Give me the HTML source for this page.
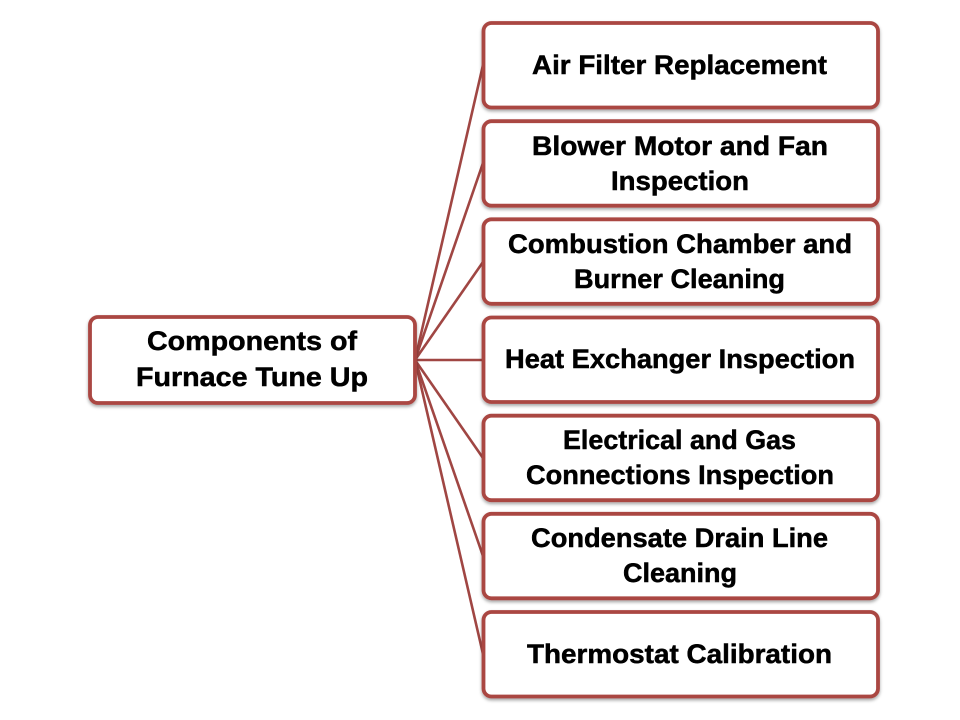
<!DOCTYPE html>
<html>
<head>
<meta charset="utf-8">
<style>
html,body{margin:0;padding:0;background:#fff;width:960px;height:720px;overflow:hidden}
svg{display:block}
text{font-family:"Liberation Sans",sans-serif;font-weight:bold;font-size:27px;fill:#000;stroke:#000;stroke-width:.5px}
.b{fill:#fff;stroke:#aa4643;stroke-width:3.8px}
.l{stroke:#a04643;stroke-width:2.6px;fill:none}
</style>
</head>
<body>
<svg width="960" height="720" viewBox="0 0 960 720" xmlns="http://www.w3.org/2000/svg">
<defs>
<filter id="s" x="-5%" y="-10%" width="110%" height="125%">
<feDropShadow dx="0" dy="2" stdDeviation="1.5" flood-color="#000" flood-opacity=".35"/>
</filter>
</defs>
<g class="l">
<line x1="415" y1="360" x2="483" y2="65"/>
<line x1="415" y1="360" x2="483" y2="163"/>
<line x1="415" y1="360" x2="483" y2="262"/>
<line x1="415" y1="360" x2="483" y2="360"/>
<line x1="415" y1="360" x2="483" y2="458"/>
<line x1="415" y1="360" x2="483" y2="556"/>
<line x1="415" y1="360" x2="483" y2="654"/>
</g>
<g class="b" filter="url(#s)">
<rect x="90" y="317" width="325" height="86" rx="8"/>
<rect x="483.5" y="23" width="394.5" height="84.5" rx="8"/>
<rect x="483.5" y="121.2" width="394.5" height="84.5" rx="8"/>
<rect x="483.5" y="219.3" width="394.5" height="84.5" rx="8"/>
<rect x="483.5" y="317.5" width="394.5" height="84.5" rx="8"/>
<rect x="483.5" y="415.7" width="394.5" height="84.5" rx="8"/>
<rect x="483.5" y="513.8" width="394.5" height="84.5" rx="8"/>
<rect x="483.5" y="612" width="394.5" height="84.5" rx="8"/>
</g>
<text x="147" y="350" textLength="210" lengthAdjust="spacingAndGlyphs">Components of</text>
<text x="136" y="386" textLength="232" lengthAdjust="spacingAndGlyphs">Furnace Tune Up</text>
<text x="532" y="74" textLength="295" lengthAdjust="spacingAndGlyphs">Air Filter Replacement</text>
<text x="532" y="155" textLength="296" lengthAdjust="spacingAndGlyphs">Blower Motor and Fan</text>
<text x="611" y="190" textLength="138" lengthAdjust="spacingAndGlyphs">Inspection</text>
<text x="508" y="253" textLength="344" lengthAdjust="spacingAndGlyphs">Combustion Chamber and</text>
<text x="574" y="288" textLength="211" lengthAdjust="spacingAndGlyphs">Burner Cleaning</text>
<text x="505" y="368" textLength="350" lengthAdjust="spacingAndGlyphs">Heat Exchanger Inspection</text>
<text x="563" y="449" textLength="233" lengthAdjust="spacingAndGlyphs">Electrical and Gas</text>
<text x="526" y="484" textLength="308" lengthAdjust="spacingAndGlyphs">Connections Inspection</text>
<text x="531" y="547" textLength="297" lengthAdjust="spacingAndGlyphs">Condensate Drain Line</text>
<text x="623" y="582" textLength="114" lengthAdjust="spacingAndGlyphs">Cleaning</text>
<text x="527" y="663" textLength="305" lengthAdjust="spacingAndGlyphs">Thermostat Calibration</text>
</svg>
</body>
</html>
